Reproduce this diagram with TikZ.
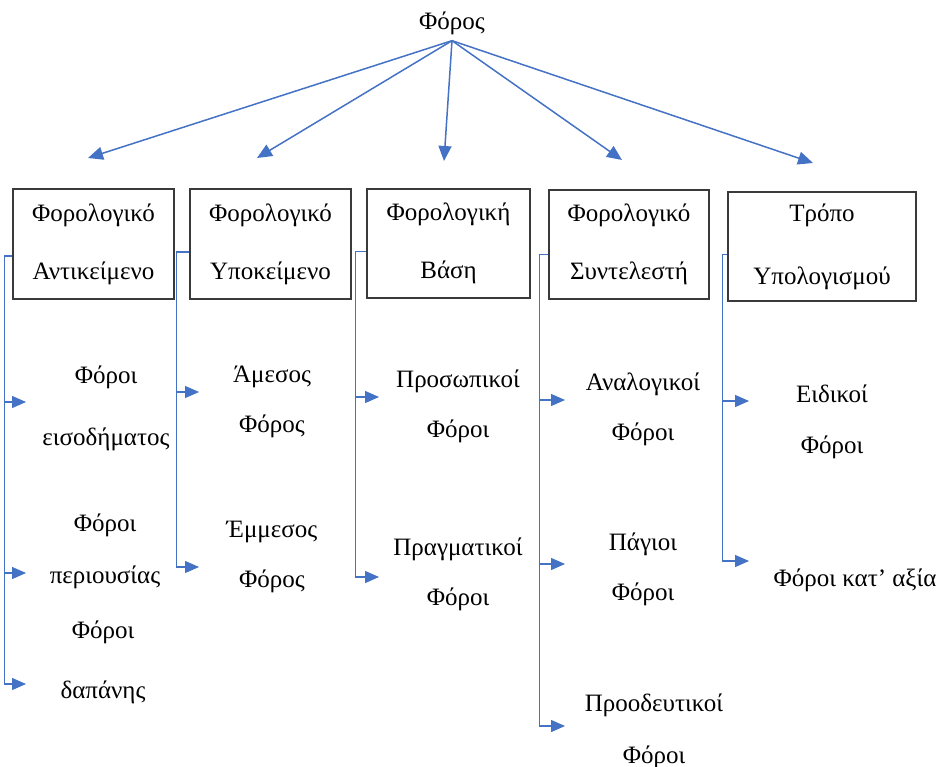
\documentclass[tikz,border=0pt]{standalone}
\usepackage{fontspec}
\setmainfont{Liberation Serif}
\usetikzlibrary{arrows.meta}
\definecolor{arrowblue}{HTML}{4472C4}
\definecolor{boxgray}{HTML}{3A3A3A}
\begin{document}
\begin{tikzpicture}[x=1pt,y=-1pt,
  catbox/.style={draw=boxgray,line width=1.3pt,inner sep=0pt,align=center,
    font=\fontsize{25}{58}\selectfont},
  leaf/.style={inner sep=0pt,align=center,font=\fontsize{25}{#1}\selectfont},
  leaf/.default=50,
  toparrow/.style={draw=arrowblue,line width=1.5pt,-{Triangle[length=15pt,width=13pt]}},
  conn/.style={draw=arrowblue,line width=1.4pt,-{Triangle[length=14pt,width=12pt]}}]
\useasboundingbox (0,0) rectangle (940,767);

% root
\node[inner xsep=0pt,inner ysep=6pt,font=\fontsize{25}{30}\selectfont] (root) at (452,23) {Φόρος};

% category boxes
\node[catbox,minimum width=161pt,minimum height=110pt] (b1) at (93.5,244) {Φορολογικό\\Αντικείμενο};
\node[catbox,minimum width=161pt,minimum height=110pt] (b2) at (270.5,244) {Φορολογικό\\Υποκείμενο};
\node[catbox,minimum width=163pt,minimum height=109pt] (b3) at (448.5,243.5) {Φορολογική\\Βάση};
\node[catbox,minimum width=160pt,minimum height=109pt] (b4) at (629,244.5) {Φορολογικό\\Συντελεστή};
\node[catbox,minimum width=188pt,minimum height=109pt,font=\fontsize{25}{63}\selectfont] (b5) at (822,246.5) {Τρόπο\\Υπολογισμού};

% top arrow tips
\coordinate (a1) at (88,158);
\coordinate (a2) at (257,158);
\coordinate (a3) at (444,161);
\coordinate (a4) at (622,160);
\coordinate (a5) at (813,163);
\foreach \t in {a1,a2,a3,a4,a5}
  \draw[toparrow] (root.south) -- (\t);

% leaves
\node[leaf=62] (c11) at (106,408) {Φόροι\\εισοδήματος};
\node[leaf=52] (c12) at (105,551) {Φόροι\\περιουσίας};
\node[leaf=60] (c13) at (103,662) {Φόροι\\δαπάνης};

\node[leaf] (c21) at (272,402) {Άμεσος\\Φόρος};
\node[leaf] (c22) at (272,557) {Έμμεσος\\Φόρος};

\node[leaf] (c31) at (458,406) {Προσωπικοί\\Φόροι};
\node[leaf] (c32) at (458,574) {Πραγματικοί\\Φόροι};

\node[leaf] (c41) at (643,409) {Αναλογικοί\\Φόροι};
\node[leaf] (c42) at (643,569) {Πάγιοι\\Φόροι};
\node[leaf=52] (c43) at (654,731) {Προοδευτικοί\\Φόροι};

\node[leaf=51] (c51) at (832,422) {Ειδικοί\\Φόροι};
\node[leaf] (c52) at (855,580) {Φόροι κατ’ αξία};

% connector tips
\coordinate (t11) at (26,402);
\coordinate (t12) at (26,573);
\coordinate (t13) at (26,684);
\coordinate (t21) at (199,392);
\coordinate (t22) at (199,567);
\coordinate (t31) at (379,397);
\coordinate (t32) at (379,577);
\coordinate (t41) at (565,400);
\coordinate (t42) at (565,564);
\coordinate (t43) at (565,726);
\coordinate (t51) at (749,401);
\coordinate (t52) at (749,561);

% elbow connectors
\foreach \t in {t11,t12,t13}
  \draw[conn] ([yshift=-12pt]b1.west) -- ++(-8,0) |- (\t);
\foreach \t in {t21,t22}
  \draw[conn] ([yshift=-8pt]b2.west) -- ++(-13,0) |- (\t);
\foreach \t in {t31,t32}
  \draw[conn] ([yshift=-8pt]b3.west) -- ++(-11,0) |- (\t);
\foreach \t in {t41,t42,t43}
  \draw[conn] ([yshift=-10pt]b4.west) -- ++(-9,0) |- (\t);
\foreach \t in {t51,t52}
  \draw[conn] ([yshift=-8pt]b5.west) -- ++(-5,0) |- (\t);
\end{tikzpicture}
\end{document}
